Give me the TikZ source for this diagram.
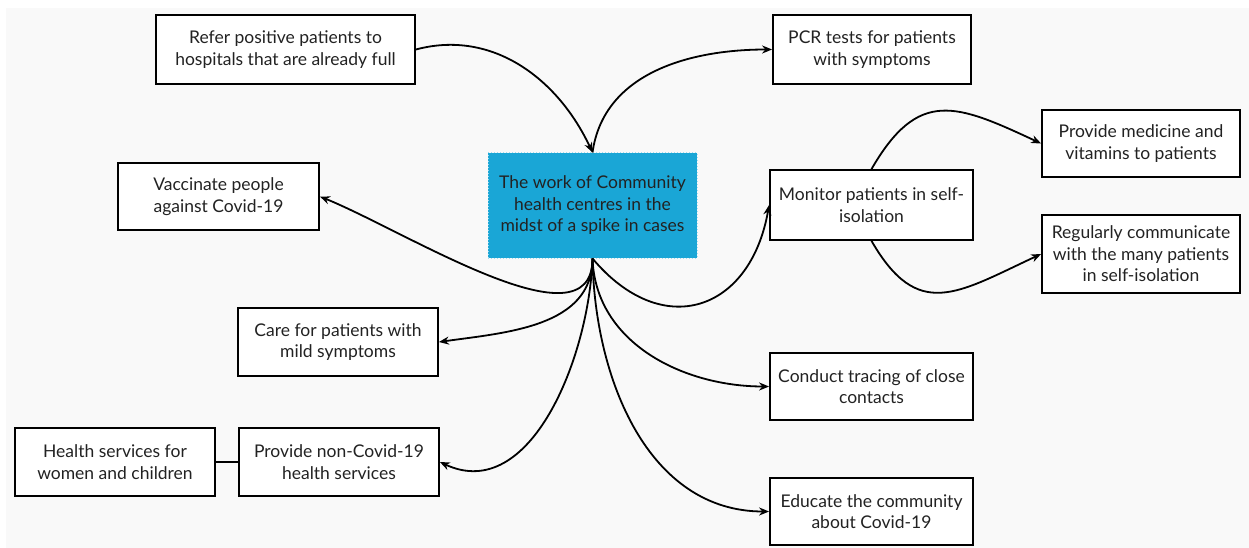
\documentclass[tikz,border=0pt]{standalone}
\usepackage{fontspec}
\setmainfont{Lato}
\usetikzlibrary{arrows.meta}
\definecolor{bggray}{HTML}{F9F9F9}
\definecolor{hubblue}{HTML}{1AA6D6}
\definecolor{inkgray}{HTML}{222222}
\tikzset{
  box/.style={draw=black,line width=1.8pt,fill=white,align=center,text=inkgray,font=\fontsize{17.5}{21.5}\selectfont,inner sep=2pt},
  hub/.style={fill=hubblue,draw=white!60!hubblue,dotted,line width=1pt,align=center,text=inkgray,font=\fontsize{17.5}{21.5}\selectfont},
  link/.style={-{Stealth[length=10pt,width=8pt]},line width=1.8pt}
}
\begin{document}
\begin{tikzpicture}[x=1pt,y=-1pt]
      \useasboundingbox (0,0) rectangle (1249,548);
      \fill[bggray] (6,8) rectangle (1249,548);
      % centre
      \node[hub,minimum width=209pt,minimum height=105pt] (work) at (592.5,205.5) {The work of Community\\health centres in the\\midst of a spike in cases};
      % boxes
      \node[box,minimum width=259pt,minimum height=69pt] (refer) at (285.5,49.5) {Refer positive patients to\\hospitals that are already full};
      \node[box,minimum width=198pt,minimum height=69pt] (pcr) at (872,49.5) {PCR tests for patients\\with symptoms};
      \node[box,minimum width=201pt,minimum height=67pt] (vacc) at (218.5,196.5) {Vaccinate people\\against Covid-19};
      \node[box,minimum width=203pt,minimum height=70pt] (monitor) at (871.5,205) {Monitor patients in self-\\isolation};
      \node[box,minimum width=198pt,minimum height=67pt] (medicine) at (1141,143.5) {Provide medicine and\\vitamins to patients};
      \node[box,minimum width=198pt,minimum height=78pt] (talk) at (1141,254) {Regularly communicate\\with the many patients\\in self-isolation};
      \node[box,minimum width=200pt,minimum height=68pt] (care) at (338,342) {Care for patients with\\mild symptoms};
      \node[box,minimum width=203pt,minimum height=67pt] (tracing) at (871.5,386.5) {Conduct tracing of close\\contacts};
      \node[box,minimum width=200pt,minimum height=68pt] (women) at (115,462) {Health services for\\women and children};
      \node[box,minimum width=200pt,minimum height=68pt] (noncovid) at (339,462) {Provide non-Covid-19\\health services};
      \node[box,minimum width=203pt,minimum height=67pt] (educate) at (871.5,511.5) {Educate the community\\about Covid-19};
      % connectors
      \draw[link] (refer.east) to[out=15,in=115] (work.north);
      \draw[link] (work.north) to[out=82,in=180] (pcr.west);
      \draw[link] (work.south) to[out=-90,in=-22,looseness=0.85] (vacc.east);
      \draw[link] (work.south) to[out=-90,in=8] (care.east);
      \draw[link] (work.south) to[out=-92,in=-25] (noncovid.east);
      \draw[link] (work.south) to[out=-50,in=-100,looseness=1.5] (monitor.west);
      \draw[link] (work.south) to[out=-88,in=180] (tracing.west);
      \draw[link] (work.south) to[out=-89,in=180] (educate.west);
      \draw[link] (monitor.north) to[out=60,in=155,looseness=1.4] (medicine.west);
      \draw[link] (monitor.south) to[out=-60,in=205,looseness=1.4] (talk.west);
      \draw[line width=1.8pt] (women.east) -- (noncovid.west);
\end{tikzpicture}
\end{document}
